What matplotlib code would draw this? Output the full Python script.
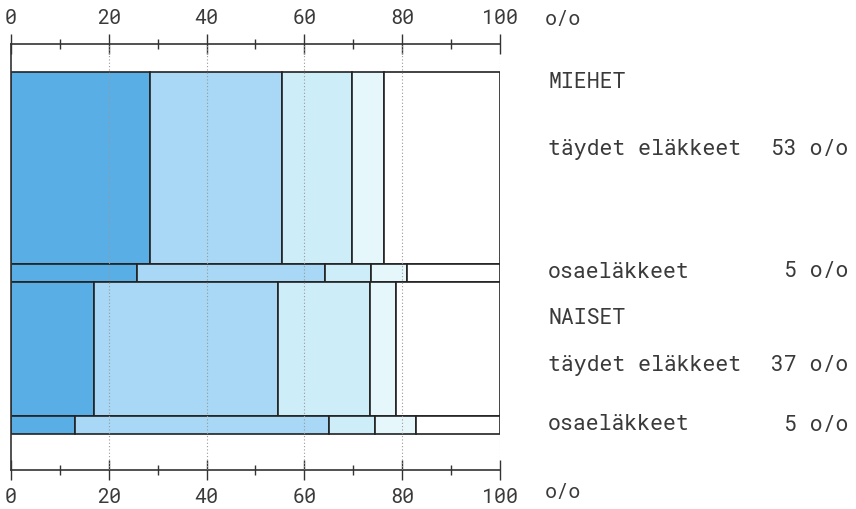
import matplotlib
matplotlib.use("Agg")
import matplotlib.pyplot as plt
from matplotlib import font_manager

# ---- data ----
rows = ["MIEHET täydet eläkkeet", "MIEHET osaeläkkeet", "NAISET täydet eläkkeet", "NAISET osaeläkkeet"]
shares = [53, 5, 37, 5]           # bar heights (share of pensions, %)
seg1 = [28.4, 25.8, 17.0, 13.0]
seg2 = [27.1, 38.4, 37.7, 52.0]
seg3 = [14.3, 9.4, 18.7, 9.4]
seg4 = [6.5, 7.3, 5.4, 8.4]
seg5 = [23.7, 19.1, 21.2, 17.2]
segments = [seg1, seg2, seg3, seg4, seg5]
colors = ["#5aaee6", "#a8d8f5", "#cdedf9", "#e6f7fb", "#ffffff"]
ticks = [0, 20, 40, 60, 80, 100]
minor_ticks = [10, 30, 50, 70, 90]
unit_label = "o/o"

labels = [
    ("MIEHET", None),
    ("täydet eläkkeet", "53 o/o"),
    ("osaeläkkeet", "5 o/o"),
    ("NAISET", None),
    ("täydet eläkkeet", "37 o/o"),
    ("osaeläkkeet", "5 o/o"),
]

# font: prefer a thin monospaced face (plotter-like lettering)
avail = {}
for f in font_manager.fontManager.ttflist:
    avail.setdefault(f.name, set()).add(f.weight)
prefs = ["Roboto Mono", "IBM Plex Mono", "Source Code Pro", "Liberation Mono", "DejaVu Sans Mono"]
fam = next(p for p in prefs if p in avail)
weights = avail[fam]
light = [w for w in weights if isinstance(w, int) and w <= 300]
fw = max(light) if light else "normal"
plt.rcParams["font.family"] = [fam, "DejaVu Sans"]
plt.rcParams["font.weight"] = fw
FS = 15.5
TFS = 14.5
TXT = "#3a3a3a"

W, H = 856, 510
fig = plt.figure(figsize=(W / 100, H / 100), dpi=100)
x0, x1 = 11, 500
ytop, ybot = 45, 471
ax = fig.add_axes([x0 / W, (H - ybot) / H, (x1 - x0) / W, (ybot - ytop) / H])

total = sum(shares)
px_per = (435 - 73) / total
gap_top = (73 - ytop) / px_per
gap_bot = (ybot - 435) / px_per

tops = []
acc = 0
for s in shares:
    tops.append(acc)
    acc += s

for i, s in enumerate(shares):
    left = 0
    for seg, c in zip(segments, colors):
        ax.barh(tops[i], seg[i], height=s, left=left, align="edge",
                color=c, edgecolor="#222222", linewidth=1.2, zorder=2)
        left += seg[i]

ax.set_xlim(0, 100)
ax.set_ylim(total + gap_bot, -gap_top)

for t in ticks[1:]:
    ax.axvline(t, color="#999999", linestyle=(0, (1, 2)), linewidth=0.8, zorder=3)

ax.set_xticks(ticks)
ax.set_xticks(minor_ticks, minor=True)
ax.set_xticklabels([str(t) for t in ticks])
ax.tick_params(axis="x", which="major", top=True, bottom=True, labeltop=True, labelbottom=True,
               direction="inout", length=14, width=1, color="#333333", labelsize=TFS, pad=5,
               labelcolor=TXT)
ax.tick_params(axis="x", which="minor", top=True, bottom=True, direction="inout",
               length=7, width=1, color="#333333")
ax.set_yticks([])
ax.spines["right"].set_visible(False)
for sp in ["top", "bottom", "left"]:
    ax.spines[sp].set_color("#333333")
    ax.spines[sp].set_linewidth(1.2)

# o/o unit labels
fig.text(545 / W, 1 - 20 / H, unit_label, fontsize=TFS, color=TXT, va="center", ha="left")
fig.text(545 / W, 1 - 493 / H, unit_label, fontsize=TFS, color=TXT, va="center", ha="left")

# right labels
ypix = [83, 150, 272, 318, 365, 425]
for (name, val), yp in zip(labels, ypix):
    fig.text(548 / W, 1 - yp / H, name, fontsize=FS, color=TXT, va="center", ha="left")
    if val:
        fig.text(848 / W, 1 - yp / H, val, fontsize=FS, color=TXT, va="center", ha="right")

fig.savefig("out.png", dpi=100)
